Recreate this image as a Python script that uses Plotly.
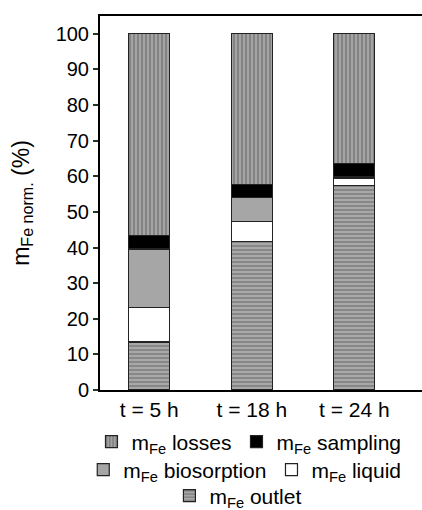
import plotly.graph_objects as go

categories = ["t = 5 h", "t = 18 h", "t = 24 h"]
outlet = [13.5, 41.8, 57.4]
liquid = [9.7, 5.6, 2.1]
biosorption = [16.4, 6.6, 0.5]
sampling = [3.7, 3.8, 3.7]
losses = [56.7, 42.2, 36.3]

FONT = "Liberation Sans, Arial, sans-serif"

series = [
    ("m<sub>Fe</sub> outlet", outlet, dict(color="#a8a8a8", pattern=dict(shape="-", fgcolor="#5e5e5e", bgcolor="#a8a8a8", size=4, solidity=0.45)), "legend3", 1),
    ("m<sub>Fe</sub> liquid", liquid, dict(color="#ffffff"), "legend2", 2),
    ("m<sub>Fe</sub> biosorption", biosorption, dict(color="#a6a6a6"), "legend2", 1),
    ("m<sub>Fe</sub> sampling", sampling, dict(color="#000000"), "legend", 2),
    ("m<sub>Fe</sub> losses", losses, dict(color="#9c9c9c", pattern=dict(shape="|", fgcolor="#5a5a5a", bgcolor="#a4a4a4", size=4, solidity=0.45)), "legend", 1),
]

fig = go.Figure()
for name, vals, mk, lg, rank in series:
    marker = dict(mk)
    marker["line"] = dict(color="#222222", width=1.2)
    fig.add_trace(go.Bar(x=categories, y=vals, name=name, marker=marker,
                         width=0.4, legend=lg, legendrank=rank))

legend_common = dict(orientation="h", xref="container", yref="container",
                     xanchor="center", yanchor="middle",
                     font=dict(family=FONT, size=21, color="#000"),
                     bgcolor="rgba(0,0,0,0)", itemwidth=30, tracegroupgap=0,
                     traceorder="normal")

fig.update_layout(
    width=422, height=510,
    margin=dict(l=100, r=0, t=16, b=120),
    paper_bgcolor="white", plot_bgcolor="white",
    barmode="stack", bargap=0.6,
    showlegend=True,
    legend=dict(x=0.59, y=1 - 442 / 510, **legend_common),
    legend2=dict(x=0.58, y=1 - 470 / 510, **legend_common),
    legend3=dict(x=0.565, y=1 - 496 / 510, **legend_common),
    font=dict(family=FONT, color="#000"),
    xaxis=dict(range=[-0.48, 2.66], showline=True, linecolor="#000", linewidth=2,
               mirror=True, ticks="", tickfont=dict(size=21, family=FONT, color="#000"),
               showgrid=False),
    yaxis=dict(range=[0, 105], tickvals=list(range(0, 101, 10)), showline=True,
               linecolor="#000", linewidth=2, mirror=False, ticks="outside",
               ticklen=5, tickcolor="#203a20", tickwidth=1.5,
               tickfont=dict(size=20, family=FONT, color="#000"), showgrid=False,
               zeroline=False,
               title=dict(text="m<sub>Fe norm.</sub> (%)", font=dict(size=23, family=FONT, color="#000"), standoff=20)),
)

fig.write_html("out.html")
